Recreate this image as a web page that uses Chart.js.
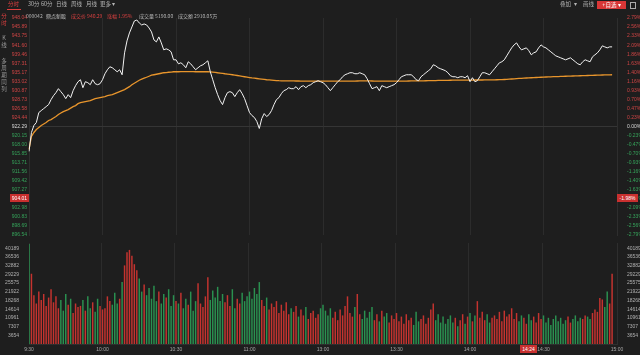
<!DOCTYPE html>
<html><head><meta charset="utf-8">
<script src="https://cdn.jsdelivr.net/npm/chart.js@4/dist/chart.umd.min.js"></script>
<style>
html,body{margin:0;padding:0;background:#1e1e1e;width:640px;height:355px;overflow:hidden;font-family:"Noto Sans CJK SC","Liberation Sans",sans-serif;}
#wrap{position:relative;width:640px;height:355px;}
.t{position:absolute;white-space:nowrap;font-size:5px;line-height:7px;color:#b4b4b4;}
.tb{font-size:5.5px;line-height:9px;}
.v{position:absolute;writing-mode:vertical-rl;text-orientation:upright;font-size:5.5px;line-height:6px;color:#9a9a9a;letter-spacing:1.5px;}
.box{position:absolute;background:#c8302f;color:#fff;font-family:"Liberation Sans",sans-serif;font-size:5px;line-height:8px;text-align:center;}
canvas{position:absolute;left:0;}
</style></head>
<body><div id="wrap">
<canvas id="cp" width="640" height="240" style="top:0"></canvas>
<canvas id="cv" width="640" height="117" style="top:238px"></canvas>

<div class="t tb" style="left:8px;top:0;color:#e04040">分时</div>
<div style="position:absolute;left:7px;top:9px;width:14px;height:1px;background:#e04040"></div>
<div class="t tb" style="left:28px;top:0">30分</div>
<div class="t tb" style="left:41px;top:0">60分</div>
<div class="t tb" style="left:56px;top:0">日线</div>
<div class="t tb" style="left:71px;top:0">周线</div>
<div class="t tb" style="left:86px;top:0">月线</div>
<div class="t tb" style="left:100px;top:0">更多 ▾</div>
<div class="t tb" style="left:560px;top:0">叠加</div>
<div class="t tb" style="left:574px;top:0">▾</div>
<div class="t tb" style="left:583px;top:0">画线</div>
<div class="t tb" style="left:597px;top:1px;width:29px;height:8px;line-height:8px;background:#d93636;color:#fff;text-align:center">+自选 ▾</div>
<div style="position:absolute;left:630px;top:2px;width:4px;height:5px;border:1px solid #aaa;"></div>

<div class="t" style="left:26px;top:12px">000042</div>
<div class="t" style="left:46px;top:12px;color:#ccc">鼎点新股</div>
<div class="t" style="left:71px;top:12px;color:#d94040">成交价 940.29</div>
<div class="t" style="left:107px;top:12px;color:#d94040">涨幅 1.95%</div>
<div class="t" style="left:139px;top:12px">成交量 5190.00</div>
<div class="t" style="left:178px;top:12px">成交额 2910.05万</div>

<div class="v" style="left:1px;top:13px;color:#e04040">分时</div>
<div class="v" style="left:1px;top:35px">K线</div>
<div class="v" style="left:1px;top:58px">多周期同列</div>

<div class="box" style="left:10px;top:194px;width:19px">904.01</div>
<div class="box" style="left:617px;top:194px;width:21px">-1.98%</div>
<div class="box" style="left:520px;top:345px;width:17px">14:24</div>
</div>
<script>
const PREV = 922.29;
const priceTickLabels = ['948.04','945.89','943.75','941.60','939.46','937.31','935.17','933.02','930.87','928.73','926.58','924.44','922.29','920.15','918.00','915.85','913.71','911.56','909.42','907.27','905.12','902.98','900.83','898.69','896.54'];
const pctTickLabels = ['2.79%','2.56%','2.33%','2.09%','1.86%','1.63%','1.40%','1.16%','0.93%','0.70%','0.47%','0.23%','0.00%','-0.23%','-0.47%','-0.70%','-0.93%','-1.16%','-1.40%','-1.63%','-1.86%','-2.09%','-2.33%','-2.56%','-2.79%'];
const volTickLabels = [3654,7307,10961,14614,18268,21922,25575,29229,32882,36536,40189];
const xTickLabels = ['9:30','10:00','10:30','11:00','13:00','13:30','14:00','14:30','15:00'];

const price = [
916.38,920.87,922.53,923.23,925.60,926.07,926.54,927.01,927.49,928.67,
929.61,930.32,931.27,930.56,929.85,928.90,929.85,929.14,930.79,931.98,
932.92,933.39,931.50,932.92,932.69,932.21,933.39,932.45,932.21,932.45,
933.39,934.81,935.76,936.46,936.23,935.76,935.28,935.76,934.57,939.77,
942.61,944.50,945.91,947.33,947.57,946.86,946.39,946.62,946.39,945.68,
944.73,942.84,942.37,943.55,942.13,940.48,940.72,940.48,940.01,938.12,
938.12,937.17,937.41,936.94,936.23,937.65,937.17,936.46,935.76,936.23,
936.70,936.94,937.41,937.88,935.28,933.39,931.50,929.85,928.43,927.49,
929.14,930.32,930.56,930.32,929.38,930.32,931.03,930.09,928.90,927.25,
925.60,924.89,924.42,923.47,921.82,924.18,925.36,924.65,925.13,926.07,
927.49,928.67,929.14,930.09,930.79,931.03,931.50,931.27,931.27,931.74,
931.03,931.74,931.98,931.50,931.98,932.21,932.69,932.92,933.16,932.92,
932.69,932.21,931.50,930.79,931.50,932.21,932.92,933.39,934.10,934.57,
934.81,935.05,935.05,934.81,934.81,935.05,934.81,934.57,933.63,932.45,
931.27,931.50,931.74,930.79,931.98,931.74,931.50,931.74,931.98,932.21,
932.69,933.39,934.10,934.34,934.57,934.57,934.57,934.10,933.39,933.16,
934.10,934.57,935.05,935.52,935.99,936.94,936.70,936.23,935.99,935.76,
935.52,935.05,934.34,934.10,934.10,933.87,934.10,934.10,933.87,934.34,
932.92,933.87,932.92,933.16,934.10,935.05,935.05,934.81,934.57,935.28,
935.99,936.70,937.41,937.65,938.12,939.06,940.01,940.95,941.66,942.13,
941.19,940.48,940.72,940.95,940.29,939.30,939.77,940.01,940.95,941.66,
941.19,940.95,940.48,940.01,939.54,939.06,938.83,938.59,938.35,938.12,
938.35,938.59,938.12,937.65,937.17,936.94,937.65,938.12,937.88,937.65,
938.83,939.30,939.77,940.48,941.43,941.19,940.95,941.19,941.19];

const avgPrice = [
916.86,919.93,920.87,921.58,922.05,922.53,922.88,923.23,923.71,923.94,
924.30,924.65,925.13,925.48,925.83,926.07,926.31,926.66,927.01,927.25,
927.72,927.96,928.08,928.20,928.31,928.43,928.67,928.90,929.02,929.14,
929.26,929.38,929.61,929.73,929.85,930.09,930.32,930.56,930.79,931.03,
931.39,931.74,932.21,932.57,932.92,933.27,933.51,933.75,933.98,934.22,
934.46,934.57,934.69,934.81,934.93,935.05,935.09,935.16,935.21,935.28,
935.28,935.28,935.33,935.33,935.33,935.33,935.33,935.33,935.28,935.28,
935.28,935.28,935.28,935.28,935.24,935.19,935.14,935.05,934.98,934.91,
934.81,934.74,934.65,934.57,934.48,934.39,934.29,934.20,934.10,934.01,
933.91,933.82,933.75,933.68,933.61,933.53,933.46,933.39,933.35,933.30,
933.25,933.20,933.16,933.14,933.13,933.12,933.11,933.10,933.10,933.09,
933.09,933.08,933.08,933.07,933.07,933.06,933.06,933.06,933.05,933.05,
933.05,933.05,933.04,933.04,933.04,933.04,933.04,933.04,933.05,933.05,
933.06,933.07,933.08,933.08,933.09,933.10,933.11,933.11,933.11,933.10,
933.09,933.08,933.07,933.06,933.05,933.05,933.04,933.04,933.04,933.04,
933.04,933.05,933.06,933.07,933.08,933.09,933.10,933.11,933.12,933.12,
933.13,933.14,933.15,933.16,933.17,933.19,933.20,933.22,933.23,933.24,
933.25,933.26,933.27,933.28,933.28,933.29,933.29,933.30,933.30,933.31,
933.31,933.31,933.32,933.32,933.33,933.33,933.34,933.35,933.35,933.36,
933.37,933.38,933.40,933.42,933.45,933.48,933.52,933.56,933.60,933.65,
933.69,933.73,933.77,933.80,933.83,933.86,933.89,933.92,933.95,933.98,
934.01,934.04,934.06,934.09,934.11,934.13,934.15,934.17,934.19,934.21,
934.23,934.25,934.27,934.29,934.31,934.33,934.35,934.37,934.39,934.41,
934.43,934.45,934.47,934.49,934.51,934.53,934.55,934.56,934.57];

const volume = [
42000,29500,20500,17000,22000,18500,21000,16000,19500,23000,
17500,20000,15000,18500,14000,21000,16500,19000,13000,17000,
15500,16000,18500,14000,20000,15000,17500,13500,19000,16000,
14500,15000,20000,18000,16500,21500,17000,19000,26000,33000,
38500,39500,37000,33500,31000,27500,22000,25000,20500,23500,
19000,24500,18000,22000,17000,21000,19500,23000,16000,20500,
18000,17000,21500,15000,19000,16500,22000,14000,18000,25500,
17000,15500,20000,28000,18500,22500,19500,24000,18000,21000,
17500,20500,16000,23000,15000,19000,17000,21500,18000,20000,
22000,19000,23500,21000,26000,18500,16000,19500,14500,17000,
15500,18000,13000,16500,14000,17500,12500,15000,13500,16000,
11500,14500,12000,15500,10500,13000,14000,11000,12500,15000,
16500,14000,12000,15000,11000,13500,10000,14500,12000,16000,
20000,13000,11500,15500,21000,12500,10500,14000,11000,13500,
15500,10000,12500,9500,14000,11500,13000,9000,12000,10500,
13000,9500,11500,8500,12500,10000,11000,8000,13500,9500,
10500,12000,8500,11000,14500,17000,10000,12500,9000,11500,
8500,10500,12000,9000,11000,7500,10000,12500,8500,11500,
13000,9500,12000,18000,11000,13500,10000,12500,9000,11000,
12000,10500,13500,9500,14000,11500,12500,15000,10500,13000,
9500,12000,11000,8500,12500,10000,11500,9000,13000,10500,
12000,9000,11000,8000,10500,12000,9500,11000,8500,10000,
11500,9000,10500,12000,9500,11000,10500,12000,11500,10500,
13000,14500,13500,19300,18700,15500,22000,17000,29500];

// time axis categories 9:30..11:30(=13:00)..15:00
const times = [];
const pad = n => String(n).padStart(2,'0');
for (let i = 0; i <= 120; i++) { const t = 570 + i; times.push(i === 120 ? '13:00' : Math.floor(t/60) + ':' + pad(t%60)); }
for (let i = 1; i <= 120; i++) { const t = 780 + i; times.push(Math.floor(t/60) + ':' + pad(t%60)); }

const RED = '#c5332f', GREEN = '#2a9150';
const volColors = volume.map((v,i) => ((i === 0 ? price[0] >= PREV : price[i] >= price[i-1]) ? RED : GREEN));

const FONT = {family:'Liberation Sans', size:5};
const priceVals = priceTickLabels.map(Number);
const pMin = priceVals[priceVals.length-1], pMax = priceVals[0];
const labelColor = v => Math.abs(v - PREV) < 0.005 ? '#d8d8d8' : (v > PREV ? '#cf4444' : '#35a35a');
const gridX = ctx => {
  const lb = times[ctx.index];
  return (ctx.index > 0 && ctx.index < 240 && xTickLabels.includes(lb)) ? '#2c2c2c' : 'rgba(0,0,0,0)';
};

new Chart(document.getElementById('cp'), {
  type: 'line',
  data: { labels: times, datasets: [
    { data: price, borderColor: '#f2f2f2', borderWidth: 1, pointRadius: 0, tension: 0, yAxisID: 'y' },
    { data: avgPrice, borderColor: '#e8952c', borderWidth: 1.3, pointRadius: 0, tension: 0, yAxisID: 'y' }
  ]},
  options: {
    responsive: false, animation: false, events: [],
    layout: { padding: { top: 18, bottom: 4, left: 0, right: 0 } },
    plugins: { legend: { display: false }, tooltip: { enabled: false } },
    scales: {
      x: { type: 'category', offset: false, ticks: { display: false, autoSkip: false },
           grid: { color: gridX, drawTicks: false }, border: { display: false },
           afterFit(s) { s.height = 0; } },
      y: { position: 'left', min: pMin, max: pMax,
           afterBuildTicks(s) { s.ticks = priceVals.slice().reverse().map(v => ({ value: v })); },
           afterFit(s) { s.width = 29; },
           ticks: { font: FONT, padding: 2, autoSkip: false, color: ctx => labelColor(ctx.tick.value),
                    callback: (v, i) => priceTickLabels[priceTickLabels.length - 1 - i] },
           grid: { drawTicks: false, color: ctx => (Math.abs(ctx.tick.value - PREV) < 0.005 ? '#353535' : 'rgba(0,0,0,0)') },
           border: { color: '#2e2e2e' } },
      y2: { position: 'right', min: pMin, max: pMax,
           afterBuildTicks(s) { s.ticks = priceVals.slice().reverse().map(v => ({ value: v })); },
           afterFit(s) { s.width = 23; },
           ticks: { font: FONT, padding: 2, autoSkip: false, color: ctx => labelColor(ctx.tick.value),
                    callback: (v, i) => pctTickLabels[pctTickLabels.length - 1 - i] },
           grid: { display: false }, border: { color: '#2e2e2e' } }
    }
  }
});

new Chart(document.getElementById('cv'), {
  type: 'bar',
  data: { labels: times, datasets: [
    { data: volume, backgroundColor: volColors, barPercentage: 0.6, categoryPercentage: 1, yAxisID: 'y' }
  ]},
  options: {
    responsive: false, animation: false, events: [],
    layout: { padding: { top: 2, bottom: 0, left: 0, right: 0 } },
    plugins: { legend: { display: false }, tooltip: { enabled: false } },
    scales: {
      x: { type: 'category', offset: false,
           ticks: { autoSkip: false, maxRotation: 0, font: FONT, color: '#a8a8a8', padding: 3,
                    callback: (v, i) => (xTickLabels.includes(times[i]) ? times[i] : '') },
           grid: { color: gridX, drawTicks: false }, border: { color: '#2e2e2e' },
           afterFit(s) { s.height = 11; } },
      y: { position: 'left', min: 0, max: 42400,
           afterBuildTicks(s) { s.ticks = volTickLabels.map(v => ({ value: v })); },
           afterFit(s) { s.width = 29; },
           ticks: { font: FONT, padding: 2, autoSkip: false, color: '#b0b0b0', callback: v => String(v) },
           grid: { display: false }, border: { color: '#2e2e2e' } },
      y2: { position: 'right', min: 0, max: 42400,
           afterBuildTicks(s) { s.ticks = volTickLabels.map(v => ({ value: v })); },
           afterFit(s) { s.width = 23; },
           ticks: { font: FONT, padding: 2, autoSkip: false, color: '#b0b0b0', callback: v => String(v) },
           grid: { display: false }, border: { color: '#2e2e2e' } }
    }
  }
});
</script>
</body></html>
